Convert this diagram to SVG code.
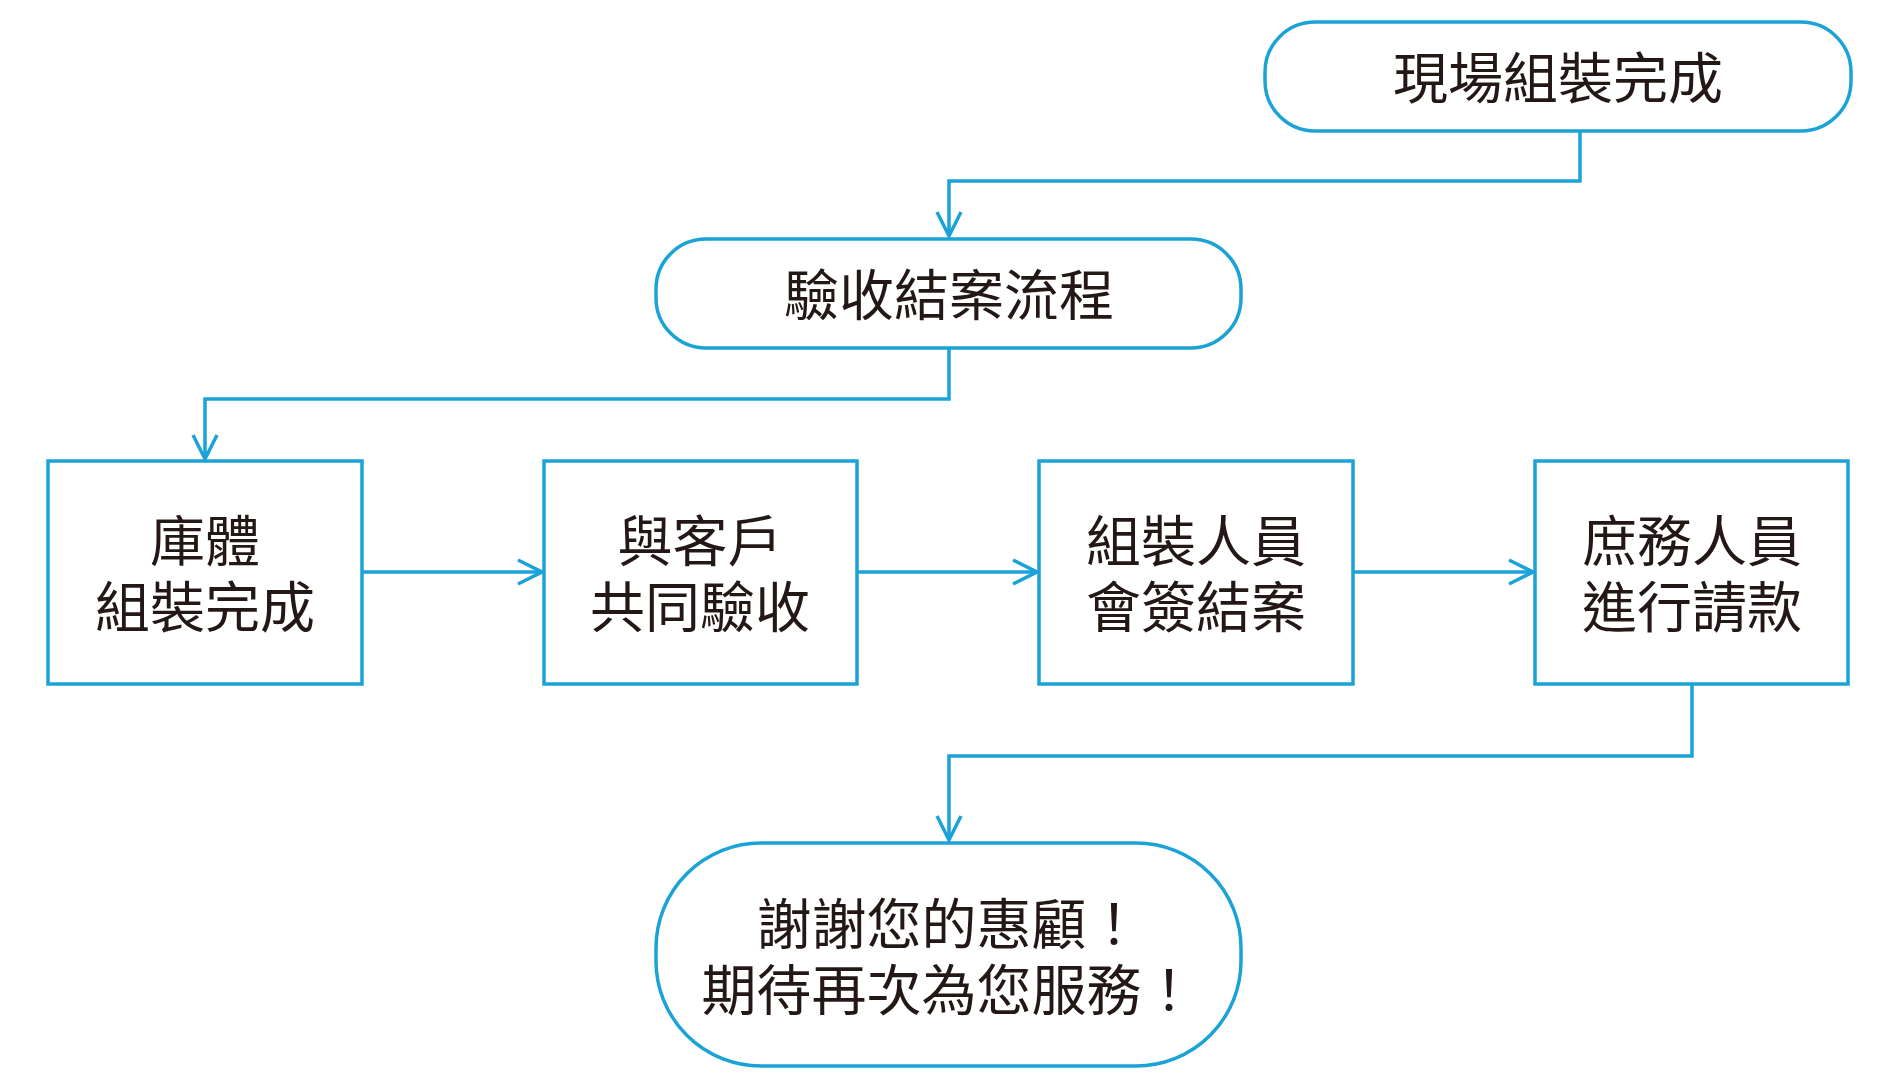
<svg xmlns="http://www.w3.org/2000/svg" width="1888" height="1080" viewBox="0 0 1888 1080">
<style>
.n{fill:#fff;stroke:#1ba3d7;stroke-width:3.5}
.c{fill:none;stroke:#1ba3d7;stroke-width:3.5}
.t{font-family:"Noto Sans CJK TC","Noto Sans CJK SC",sans-serif;font-size:55px;fill:#231815;text-anchor:middle}
</style>
<defs>
<marker id="ah" viewBox="0 0 30 30" refX="27" refY="15" markerWidth="30" markerHeight="30" markerUnits="userSpaceOnUse" orient="auto">
<path d="M3,3 L27,15 L3,27" fill="none" stroke="#1ba3d7" stroke-width="3.5"/>
</marker>
</defs>
<rect width="1888" height="1080" fill="#fff"/>
<g id="connectors">
<path class="c" d="M1580,131 V181 H949 V236" marker-end="url(#ah)"/>
<path class="c" d="M949,348 V399 H205 V459" marker-end="url(#ah)"/>
<path class="c" d="M362,572 H542" marker-end="url(#ah)"/>
<path class="c" d="M857,572 H1037" marker-end="url(#ah)"/>
<path class="c" d="M1353,572 H1533" marker-end="url(#ah)"/>
<path class="c" d="M1692,684 V756 H949 V840" marker-end="url(#ah)"/>
</g>
<g id="n1">
<rect class="n" x="1265" y="22" width="586" height="109" rx="50"/>
<text class="t" x="1558" y="98">現場組裝完成</text>
</g>
<g id="n2">
<rect class="n" x="656" y="239" width="585" height="109" rx="50"/>
<text class="t" x="949" y="315">驗收結案流程</text>
</g>
<g id="n3">
<rect class="n" x="48" y="461" width="314" height="223"/>
<text class="t"><tspan x="205" y="561">庫體</tspan><tspan x="205" y="627">組裝完成</tspan></text>
</g>
<g id="n4">
<rect class="n" x="544" y="461" width="313" height="223"/>
<text class="t"><tspan x="700" y="561">與客戶</tspan><tspan x="700" y="627">共同驗收</tspan></text>
</g>
<g id="n5">
<rect class="n" x="1039" y="461" width="314" height="223"/>
<text class="t"><tspan x="1196" y="561">組裝人員</tspan><tspan x="1196" y="627">會簽結案</tspan></text>
</g>
<g id="n6">
<rect class="n" x="1535" y="461" width="313" height="223"/>
<text class="t"><tspan x="1692" y="561">庶務人員</tspan><tspan x="1692" y="627">進行請款</tspan></text>
</g>
<g id="n7">
<rect class="n" x="656" y="843" width="585" height="223" rx="105"/>
<text class="t"><tspan x="949" y="944">謝謝您的惠顧！</tspan><tspan x="949" y="1010">期待再次為您服務！</tspan></text>
</g>
</svg>
